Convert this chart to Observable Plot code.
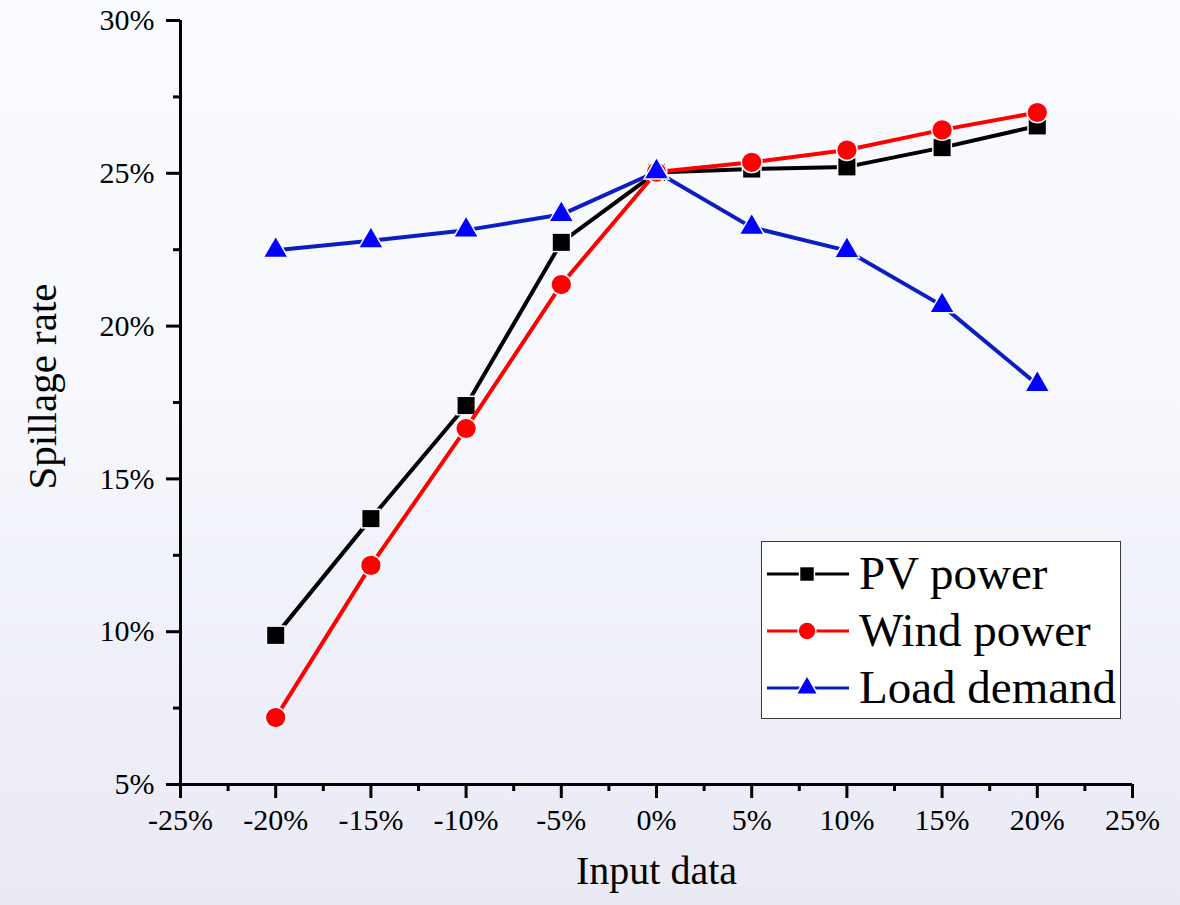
<!DOCTYPE html>
<html>
<head>
<meta charset="utf-8">
<script src="https://cdn.jsdelivr.net/npm/d3@7"></script>
<script src="https://cdn.jsdelivr.net/npm/@observablehq/plot@0.6"></script>
<style>
  html, body { margin: 0; padding: 0; }
  body {
    width: 1180px; height: 905px; overflow: hidden;
    background: linear-gradient(180deg, #f9fbfe 0%, #f6f8fd 45%, #eeeff8 75%, #eaeaf4 100%);
    font-family: "Liberation Serif", "Times New Roman", serif;
  }
  #chart { position: relative; width: 1180px; height: 905px; }
  #legend {
    position: absolute; left: 761px; top: 541px; width: 358px; height: 176px;
    background: #ffffff; border: 1.5px solid #3a3a3a;
    box-sizing: content-box;
  }
  .row { position: absolute; left: 0; height: 57px; display: flex; align-items: center; }
  .row svg { margin-left: 5px; }
  .row span { font-size: 47px; color: #000; margin-left: 10px; line-height: 57px; }
</style>
</head>
<body>
<div id="chart"></div>
<script>
// Sensitivity of the spillage rate to a change in each input (percent change)
const inputChange = [-20, -15, -10, -5, 0, 5, 10, 15, 20];
const pvPower     = [9.88, 13.70, 17.40, 22.74, 25.03, 25.14, 25.21, 25.84, 26.55];
const windPower   = [7.19, 12.17, 16.65, 21.36, 25.04, 25.36, 25.76, 26.42, 26.99];
const loadDemand  = [22.48, 22.79, 23.14, 23.65, 25.05, 23.23, 22.47, 20.67, 18.09];

const seriesNames = ["PV power", "Wind power", "Load demand"];
const xTicks = [-25, -20, -15, -10, -5, 0, 5, 10, 15, 20, 25];
const xMinorTicks = [-22.5, -17.5, -12.5, -7.5, -2.5, 2.5, 7.5, 12.5, 17.5, 22.5];
const yTicks = [5, 10, 15, 20, 25, 30];
const yMinorTicks = [7.5, 12.5, 17.5, 22.5, 27.5];

const styles = {
  "PV power":    {line: "#000000", fill: "#000000", symbol: "square",   r: 9.6},
  "Wind power":  {line: "#ff0000", fill: "#ff0000", symbol: "circle",   r: 9.6},
  "Load demand": {line: "#0b1ec4", fill: "#0000ff", symbol: "triangle", r: 8.3}
};
const gapColor = "#f7f8fd";

const rows = [];
[pvPower, windPower, loadDemand].forEach((vals, k) => {
  vals.forEach((v, i) => rows.push({series: seriesNames[k], x: inputChange[i], y: v}));
});

const seriesMarks = seriesNames.flatMap(name => {
  const s = styles[name];
  const data = rows.filter(d => d.series === name);
  return [
    Plot.line(data, {x: "x", y: "y", stroke: s.line, strokeWidth: 4}),
    Plot.dot(data, {x: "x", y: "y", symbol: s.symbol, r: s.r, fill: s.fill,
                    stroke: gapColor, strokeWidth: 3, paintOrder: "stroke"})
  ];
});

const fmt = d => d + "%";

const chart = Plot.plot({
  width: 1180,
  height: 905,
  marginLeft: 180,
  marginRight: 48,
  marginTop: 20,
  marginBottom: 121,
  style: {background: "transparent", fontFamily: "'Liberation Serif', 'Times New Roman', serif", color: "#000"},
  x: {domain: [-25, 25]},
  y: {domain: [5, 30]},
  marks: [
    // axis lines
    Plot.ruleY([5], {stroke: "#000", strokeWidth: 3}),
    Plot.ruleX([-25], {stroke: "#000", strokeWidth: 3}),
    // major and minor ticks
    Plot.axisX(xTicks, {tickSize: 14, tickPadding: 10, tickFormat: fmt, fontSize: 30,
                        strokeWidth: 3, label: null}),
    Plot.axisX(xMinorTicks, {tickSize: 7, text: null, strokeWidth: 3, label: null}),
    Plot.axisY(yTicks, {tickSize: 14, tickPadding: 12, tickFormat: fmt, fontSize: 30,
                        strokeWidth: 3, label: null}),
    Plot.axisY(yMinorTicks, {tickSize: 7, text: null, strokeWidth: 3, label: null}),
    // axis titles
    Plot.text(["Input data"], {text: d => d, frameAnchor: "bottom", dy: 99, fontSize: 40}),
    Plot.text(["Spillage rate"], {text: d => d, frameAnchor: "left", rotate: -90,
                                  textAnchor: "middle", dx: -138, dy: -16, fontSize: 41}),
    ...seriesMarks
  ]
});

const root = document.getElementById("chart");
root.appendChild(chart);

// legend: line swatch with marker, then series name
const legend = document.createElement("div");
legend.id = "legend";
seriesNames.forEach((name, i) => {
  const s = styles[name];
  const row = document.createElement("div");
  row.className = "row";
  row.style.top = (3 + i * 57) + "px";
  const sym = {square: d3.symbolSquare, circle: d3.symbolCircle, triangle: d3.symbolTriangle}[s.symbol];
  const path = d3.symbol(sym, Math.PI * s.r * s.r * (s.symbol === "square" ? 0.62 : 0.72))();
  row.innerHTML =
    `<svg width="82" height="40" viewBox="0 0 82 40">
       <line x1="0" x2="82" y1="20" y2="20" stroke="${s.line}" stroke-width="3"/>
       <path d="${path}" transform="translate(40,20)" fill="${s.fill}" stroke="#fff" stroke-width="3" paint-order="stroke"/>
     </svg><span>${name}</span>`;
  legend.appendChild(row);
});
root.appendChild(legend);
</script>
</body>
</html>
